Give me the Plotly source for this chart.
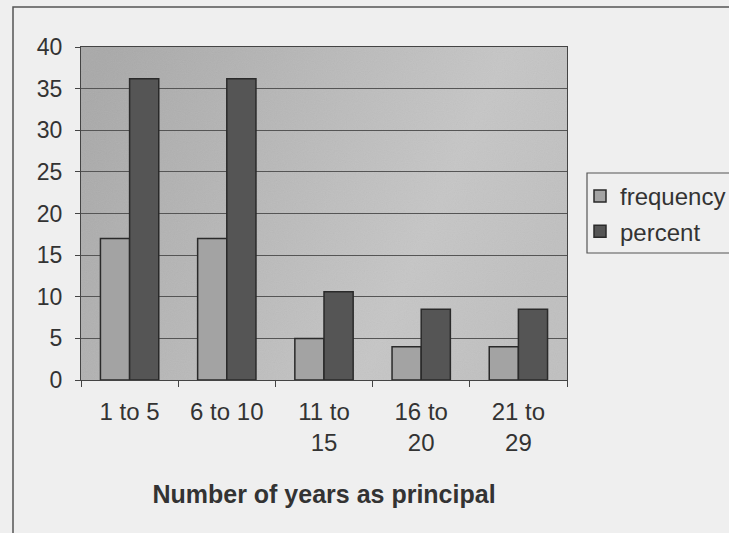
import base64
import plotly.graph_objects as go

# ---- data ----
categories = ["1 to 5", "6 to 10", "11 to<br>15", "16 to<br>20", "21 to<br>29"]
frequency = [17, 17, 5, 4, 4]
percent = [36.2, 36.2, 10.6, 8.5, 8.5]
y_ticks = [0, 5, 10, 15, 20, 25, 30, 35, 40]

W, H = 729, 533
L, R, T, B = 81, 162, 47, 153
pw, ph = W - L - R, H - T - B

def px_x(x):
    return (x - L) / pw

def px_y(y):
    return (H - B - y) / ph

FONT = "Liberation Sans, Arial, sans-serif"
TXT = "#333333"

# gradient background for the plot area (SVG data URI)
svg = (
    '<svg xmlns="http://www.w3.org/2000/svg" width="486" height="333">'
    '<defs><linearGradient id="g" x1="0" y1="0.2" x2="1" y2="0.5">'
    '<stop offset="0" stop-color="#a9a9a9"/>'
    '<stop offset="0.75" stop-color="#c6c6c6"/>'
    '<stop offset="1" stop-color="#c0c0c0"/>'
    '</linearGradient>'
    '<filter id="n"><feTurbulence type="fractalNoise" baseFrequency="0.9" numOctaves="1"/>'
    '<feColorMatrix type="saturate" values="0"/>'
    '<feComponentTransfer><feFuncA type="linear" slope="0.12"/></feComponentTransfer></filter>'
    '</defs>'
    '<rect width="486" height="333" fill="url(#g)"/>'
    '<rect width="486" height="333" filter="url(#n)"/>'
    '</svg>'
)
svg_uri = "data:image/svg+xml;base64," + base64.b64encode(svg.encode()).decode()

fig = go.Figure()
fig.add_trace(go.Bar(
    x=categories, y=frequency, name="frequency",
    marker=dict(color="#a3a3a3", line=dict(color="#2a2a2a", width=1.5)),
    legendgroup="a",
))
fig.add_trace(go.Bar(
    x=categories, y=percent, name="percent",
    marker=dict(color="#555555", line=dict(color="#2a2a2a", width=1.5)),
    legendgroup="b",
))

fig.update_layout(
    width=W, height=H,
    margin=dict(l=L, r=R, t=T, b=B, pad=0, autoexpand=False),
    paper_bgcolor="#efefef",
    plot_bgcolor="rgba(0,0,0,0)",
    barmode="group", bargap=0.4, bargroupgap=0,
    font=dict(family=FONT, color=TXT, size=24),
    showlegend=True,
    legend=dict(
        x=px_x(580), y=px_y(174), xanchor="left", yanchor="top",
        bgcolor="rgba(0,0,0,0)", borderwidth=0,
        font=dict(family=FONT, size=24, color=TXT),
        traceorder="grouped", tracegroupgap=1, itemwidth=30,
    ),
    images=[dict(
        source=svg_uri, xref="paper", yref="paper", x=0, y=1,
        sizex=1, sizey=1, xanchor="left", yanchor="top",
        sizing="stretch", layer="below",
    )],
    shapes=[
        dict(type="rect", xref="paper", yref="paper",
             x0=px_x(13), x1=1.6, y0=-0.6, y1=px_y(7),
             line=dict(color="#555555", width=1.5), fillcolor="rgba(0,0,0,0)",
             layer="below"),
        dict(type="rect", xref="paper", yref="paper",
             x0=px_x(587), x1=1.6, y0=px_y(253), y1=px_y(173),
             line=dict(color="#555555", width=1.2), fillcolor="rgba(0,0,0,0)",
             layer="below"),
    ],
)

fig.update_xaxes(
    showline=True, linecolor="#444444", linewidth=1.2, mirror=True,
    ticks="outside", ticklen=6, tickcolor="#444444", tickson="boundaries",
    tickfont=dict(size=24, color=TXT), ticklabelstandoff=10,
    title=dict(text="<b>Number of years as principal</b>",
               font=dict(size=25, color=TXT), standoff=30),
    showgrid=False,
)
fig.update_yaxes(
    range=[0, 40], tickvals=y_ticks, ticktext=[str(v) for v in y_ticks],
    showline=True, linecolor="#444444", linewidth=1.2, mirror=True,
    ticks="outside", ticklen=5, tickcolor="#444444",
    showgrid=True, gridcolor="#555555", gridwidth=1,
    tickfont=dict(size=23, color=TXT), ticklabelstandoff=8,
    zeroline=False,
)

fig.write_html(
    "out.html",
    config={"displayModeBar": False},
    post_script="document.body.style.margin='0';document.body.style.overflow='hidden';",
)
